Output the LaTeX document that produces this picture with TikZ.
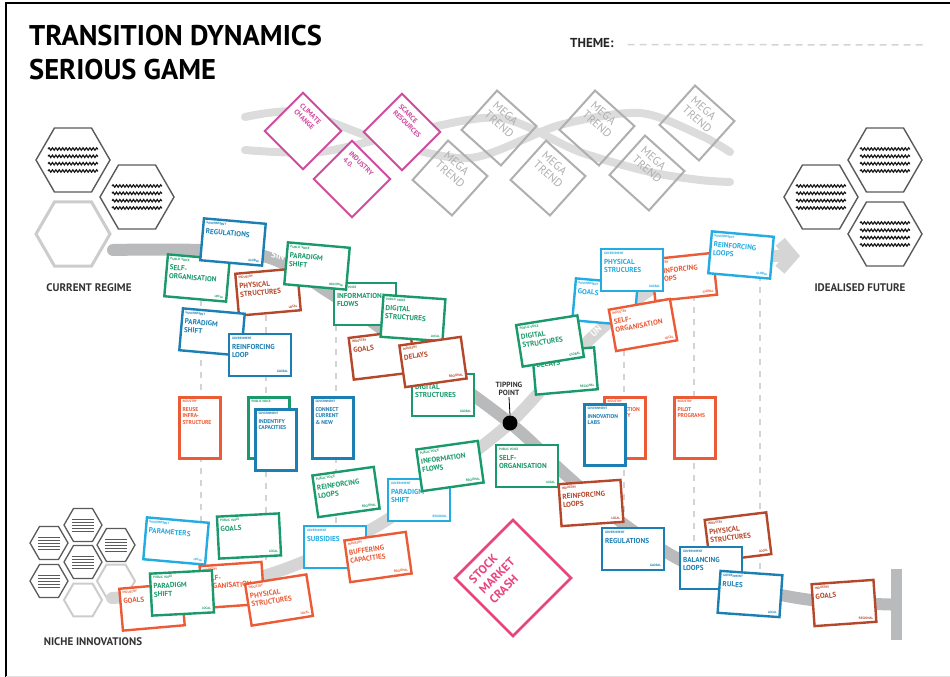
\documentclass[tikz,border=0pt]{standalone}
\usepackage{fontspec}
\setmainfont{PT Sans}
\usetikzlibrary{arrows.meta,decorations.pathmorphing}

\definecolor{govblue}{HTML}{1C7FB4}
\definecolor{govcyan}{HTML}{22ACE2}
\definecolor{voicegreen}{HTML}{1A9A6A}
\definecolor{indorange}{HTML}{EC5A36}
\definecolor{indbrick}{HTML}{B5472B}
\definecolor{trendpink}{HTML}{CF4B9E}
\definecolor{crashpink}{HTML}{E8457F}
\definecolor{trendgray}{HTML}{AEAFB1}
\definecolor{bandgray}{HTML}{DCDCDC}
\definecolor{regimegray}{HTML}{B9BABC}
\definecolor{nichegray}{HTML}{D5D5D6}
\definecolor{hexgray}{HTML}{5A5A5A}
\definecolor{dashgray}{HTML}{D4D4D4}

% fonts on the cards
\newcommand{\cardcat}{\fontsize{3.2}{4}\selectfont\bfseries}
\newcommand{\cardtitle}{\fontsize{7.2}{8.4}\selectfont\bfseries}
\newcommand{\cardtall}{\fontsize{5.6}{6.8}\selectfont\bfseries}
\newcommand{\trendfont}{\fontsize{7}{8.2}\selectfont\bfseries}
\newcommand{\megafont}{\fontsize{11.5}{12.5}\selectfont}
\newcommand{\crashfont}{\fontsize{12}{14.5}\selectfont\bfseries}

% card contents: category, title, scope
\newcommand{\cardtext}[3]{\parbox[c][36pt][t]{56pt}{\cardcat #1\par\vspace{1.5pt}{\cardtitle #2\par}\vfill\hfill{\cardcat #3}}}
\newcommand{\tallcardtext}[2]{\parbox[c][55pt][t]{35pt}{\cardcat #1\par\vspace{1.5pt}{\cardtall #2\par}}}

% hexagon and its wavy rows
\newcommand{\hexagon}[3]{\draw[#3] (#1) +(0:#2) -- +(60:#2) -- +(120:#2) -- +(180:#2) -- +(240:#2) -- +(300:#2) -- cycle;}
\newcommand{\waverows}[2]{\foreach \dy in {-11,-3.7,3.7,11} \draw[wave] ({#1-25},{#2+\dy}) -- ++(50,0);}
\newcommand{\linerows}[2]{\foreach \dy in {-6,-3,0,3,6} \draw[hexgray, line width=0.9pt] ({#1-11},{#2+\dy}) -- ++(22,0);}

\tikzset{
  card/.style={draw=#1, text=#1, fill=white, line width=2.4pt, inner sep=3pt},
  trend/.style={draw=#1, text=#1, line width=2pt, inner sep=7pt},
  wave/.style={decorate, decoration={snake, amplitude=1.2pt, segment length=3.4pt}, line width=1.2pt, black!90},
  bigcell/.style={hexgray, line width=1.4pt},
  emptycell/.style={black!20, line width=3pt},
  smallcell/.style={hexgray, line width=1.3pt},
  columnline/.style={dashgray, line width=2.6pt, dash pattern=on 6pt off 6pt},
  label/.style={font=\fontsize{11}{11}\selectfont\bfseries, text=black!80, inner sep=0}
}

\begin{document}
\begin{tikzpicture}[x=1pt, y=-1pt]
\useasboundingbox (0,0) rectangle (950,677);

% frame and heading
\draw[line width=2.5pt] (6,677) -- (6,3) -- (950,3);
\draw[black!12, line width=1pt] (6,676) -- (950,676);
\node[anchor=north west, align=left, inner sep=0, font=\fontsize{28.5}{34}\selectfont\bfseries] (title) at (29,25) {TRANSITION DYNAMICS\\SERIOUS GAME};
\node[anchor=base west, inner sep=0, font=\fontsize{13}{13}\selectfont\bfseries, text=black!85] (theme) at (570,48) {THEME:};
\draw[dashgray, line width=1.5pt, dash pattern=on 7pt off 5pt] ([xshift=14pt, yshift=-1pt]theme.east) -- (925,45);

% mega trend bands
\draw[bandgray, line width=8pt, line cap=round] plot[smooth] coordinates {(245,117) (300,112) (380,140) (470,158) (560,125) (640,113) (700,135) (730,152)};
\draw[bandgray, line width=8pt, line cap=round] plot[smooth] coordinates {(245,150) (320,152) (410,132) (500,118) (580,152) (650,172) (700,180) (730,182)};

% mega trends
\node[trend=trendgray, rotate=-42] (megaA) at (499,128) {\parbox[c][39pt][t]{39pt}{\megafont MEGA\\TREND}};
\node[trend=trendgray, rotate=-42] (megaB) at (597,128) {\parbox[c][39pt][t]{39pt}{\megafont MEGA\\TREND}};
\node[trend=trendgray, rotate=-42] (megaC) at (697,123) {\parbox[c][39pt][t]{39pt}{\megafont MEGA\\TREND}};
\node[trend=trendgray, rotate=-42] (megaD) at (450,178) {\parbox[c][39pt][t]{39pt}{\megafont MEGA\\TREND}};
\node[trend=trendgray, rotate=-42] (megaE) at (548,178) {\parbox[c][39pt][t]{39pt}{\megafont MEGA\\TREND}};
\node[trend=trendgray, rotate=-42] (megaF) at (647,173) {\parbox[c][39pt][t]{39pt}{\megafont MEGA\\TREND}};

% named trends
\node[trend=trendpink, fill=white, rotate=-45] (climate) at (303,131) {\parbox[c][40pt][t]{40pt}{\trendfont CLIMATE\\CHANGE}};
\node[trend=trendpink, fill=white, rotate=-45] (scarce) at (402,132) {\parbox[c][40pt][t]{40pt}{\trendfont SCARCE\\RESOURCES}};
\node[trend=trendpink, fill=white, rotate=-45] (industry) at (352,179) {\parbox[c][40pt][t]{40pt}{\trendfont INDUSTRY\\4.0.}};

% regime hexagons
\hexagon{73,160}{37}{bigcell}
\waverows{73}{160}
\hexagon{137,197}{37}{bigcell}
\waverows{137}{197}
\hexagon{73,234}{37}{emptycell}

% future hexagons
\hexagon{885,160}{37}{bigcell}
\waverows{885}{160}
\hexagon{821,197}{37}{bigcell}
\waverows{821}{197}
\hexagon{885,234}{37}{bigcell}
\waverows{885}{234}

% niche hexagons
\foreach \cx/\cy in {49/543, 83/525, 116/545, 83/562, 49/581} {
  \hexagon{\cx,\cy}{19}{smallcell}
  \linerows{\cx}{\cy}
}
\hexagon{83,600}{19}{emptycell, line width=2pt}
\hexagon{116,581}{19}{emptycell, line width=2pt}

% dashed columns
\foreach \cx/\ya/\yb in {201/300/530, 266/315/560, 336/325/530, 624/350/540, 694/295/570, 760/275/585}
  \draw[columnline] (\cx,\ya) -- (\cx,\yb);

% regime and niche paths
\coordinate (regime) at (113,250);
\coordinate (niche) at (112,598);
\coordinate (tp) at (510,423);
\coordinate (future) at (800,256);
\node[fill=regimegray, minimum width=11pt, minimum height=71pt, inner sep=0] (endbar) at (896.5,604.5) {};
\draw[regimegray, line width=12pt, line cap=round] plot[smooth, tension=0.55] coordinates {(regime) (255,254) (330,293) (420,357) (tp) (565,474) (625,525) (690,565) (760,590) (820,601) (endbar.west)};
\draw[nichegray, line width=12pt, line cap=round, -{Straight Barb[length=12pt, width=28pt]}] plot[smooth, tension=0.55] coordinates {(niche) (200,590) (270,574) (330,550) (390,518) (450,471) (tp) (555,375) (600,330) (650,290) (700,265) (750,257) (future)};
\node[text=white, font=\fontsize{9}{9}\selectfont\bfseries, rotate=-10] (sinkA) at (278,256) {SIN};
\node[text=white, font=\fontsize{9}{9}\selectfont\bfseries, rotate=42] (riseA) at (596,331) {UN};

% tipping point
\node[circle, fill=black, minimum size=15pt, inner sep=0] (tipping) at (tp) {};
\node[font=\fontsize{7.5}{8.5}\selectfont\bfseries, align=center, text=black!80, inner sep=1pt] (tiplabel) at (509,389) {TIPPING\\POINT};
\draw[line width=0.8pt] (tiplabel.south) -- (tipping.north);

% side labels
\node[label] (current) at (89,288) {CURRENT REGIME};
\node[label] (idealised) at (860,288) {IDEALISED FUTURE};
\node[label] (nichelabel) at (93,642) {NICHE INNOVATIONS};

% cards upper left
\node[card=voicegreen, rotate=-5] (selforgA) at (197,278) {\cardtext{PUBLIC VOICE}{SELF-\\ORGANISATION}{LOCAL}};
\node[card=govblue, rotate=-5] (regulA) at (233,242) {\cardtext{GOVERNMENT}{REGULATIONS}{GLOBAL}};
\node[card=indbrick, rotate=5] (physA) at (268,292) {\cardtext{INDUSTRY}{PHYSICAL\\STRUCTURES}{LOCAL}};
\node[card=voicegreen] (infoA) at (365,304) {\cardtext{PUBLIC VOICE}{INFORMATION\\FLOWS}{}};
\node[card=voicegreen, rotate=-5] (paradigmA) at (317,266) {\cardtext{PUBLIC VOICE}{PARADIGM\\SHIFT}{REGIONAL}};
\node[card=indbrick, rotate=7] (goalsA) at (382,355) {\cardtext{INDUSTRY}{GOALS}{}};
\node[card=voicegreen, rotate=-4] (digitalA) at (413,318) {\cardtext{PUBLIC VOICE}{DIGITAL\\STRUCTURES}{LOCAL}};
\node[card=voicegreen] (digitalB) at (443,395) {\cardtext{PUBLIC VOICE}{DIGITAL\\STRUCTURES}{GLOBAL}};
\node[card=indbrick, rotate=8] (delaysA) at (433,362) {\cardtext{INDUSTRY}{DELAYS}{REGIONAL}};
\node[card=govblue, rotate=-5] (paradigmB) at (212,332) {\cardtext{GOVERNMENT}{PARADIGM\\SHIFT}{LOCAL}};
\node[card=govblue] (reinfA) at (260,355) {\cardtext{GOVERNMENT}{REINFORCING\\LOOP}{GLOBAL}};

% cards upper right
\node[card=indorange, rotate=6] (reinfC) at (684,277) {\cardtext{INDUSTRY}{REINFORCING\\LOOPS}{GLOBAL}};
\node[card=govcyan, rotate=-5] (goalsB) at (605,302) {\cardtext{GOVERNMENT}{GOALS}{}};
\node[card=govcyan] (physB) at (632,270) {\cardtext{GOVERNMENT}{PHYSICAL\\STRUCURES}{GLOBAL}};
\node[card=govcyan, rotate=-5] (reinfB) at (741,255) {\cardtext{GOVERNMENT}{REINFORCING\\LOOPS}{GLOBAL}};
\node[card=voicegreen, rotate=5] (delaysB) at (565,371) {\cardtext{PUBLIC VOICE}{DELAYS}{REGIONAL}};
\node[card=voicegreen, rotate=9] (digitalC) at (550,341) {\cardtext{PUBLIC VOICE}{DIGITAL\\STRUCTURES}{GLOBAL}};
\node[card=indorange, rotate=10] (selforgB) at (643,325) {\cardtext{INDUSTRY}{SELF-\\ORGANISATION}{LOCAL}};

% upright cards
\node[card=indorange] (reuse) at (200,428) {\tallcardtext{INDUSTRY}{REUSE\\INFRA-\\STRUCTURE}};
\node[card=voicegreen] (voicetall) at (269,428) {\tallcardtext{PUBLIC VOICE}{}};
\node[card=govblue] (identify) at (276,440) {\tallcardtext{GOVERNMENT}{INDENTIFY\\CAPACITIES}};
\node[card=govblue] (connect) at (333,428) {\tallcardtext{GOVERNMENT}{CONNECT\\CURRENT\\\& NEW}};
\node[card=indorange] (production) at (625,428) {\tallcardtext{INDUSTRY}{PRODUCTION\\CAPACITY}};
\node[card=govblue] (labs) at (605,435) {\tallcardtext{GOVERNMENT}{INNOVATION\\LABS}};
\node[card=indorange] (pilot) at (695,428) {\tallcardtext{INDUSTRY}{PILOT\\PROGRAMS}};

% cards lower middle
\node[card=voicegreen, rotate=8] (reinfD) at (346,492) {\cardtext{PUBLIC VOICE}{REINFORCING\\LOOPS}{REGIONAL}};
\node[card=govcyan] (paradigmC) at (419,500) {\cardtext{GOVERNMENT}{PARADIGM\\SHIFT}{REGIONAL}};
\node[card=voicegreen, rotate=8] (infoB) at (450,466) {\cardtext{PUBLIC VOICE}{INFORMATION\\FLOWS}{REGIONAL}};

% cards lower left
\node[card=govcyan, rotate=-5] (params) at (176,541) {\cardtext{GOVERNMENT}{PARAMETERS}{LOCAL}};
\node[card=voicegreen, rotate=3] (goalsC) at (249,536) {\cardtext{PUBLIC VOICE}{GOALS}{LOCAL}};
\node[card=govcyan] (subsidies) at (335,547) {\cardtext{GOVERNMENT}{SUBSIDIES}{}};
\node[card=indorange, rotate=8] (buffer) at (378,557) {\cardtext{INDUSTRY}{BUFFERING\\CAPACITIES}{REGIONAL}};
\node[card=indorange, rotate=5] (goalsD) at (152,607) {\cardtext{INDUSTRY}{GOALS}{}};
\node[card=indorange, rotate=4] (selforgC) at (232,585) {\cardtext{INDUSTRY}{SELF-\\ORGANISATION}{}};
\node[card=voicegreen, rotate=3] (paradigmD) at (182,593) {\cardtext{PUBLIC VOICE}{PARADIGM\\SHIFT}{LOCAL}};
\node[card=indorange, rotate=9] (physC) at (279,600) {\cardtext{INDUSTRY}{PHYSICAL\\STRUCTURES}{LOCAL}};

% cards lower right
\node[card=voicegreen] (selforgD) at (527,466) {\cardtext{PUBLIC VOICE}{SELF-\\ORGANISATION}{LOCAL}};
\node[card=indbrick, rotate=4] (reinfE) at (591,503) {\cardtext{INDUSTRY}{REINFORCING\\LOOPS}{LOCAL}};
\node[card=govblue] (regulB) at (633,549) {\cardtext{GOVERNMENT}{REGULATIONS}{GLOBAL}};
\node[card=indbrick, rotate=7] (physD) at (738,537) {\cardtext{INDUSTRY}{PHYSICAL\\STRUCTURES}{LOCAL}};
\node[card=govblue] (balance) at (711,568) {\cardtext{GOVERNMENT}{BALANCING\\LOOPS}{}};
\node[card=govblue, rotate=-4] (rules) at (750,594) {\cardtext{GOVERNMENT}{RULES}{LOCAL}};
\node[card=indbrick, rotate=4] (goalsE) at (844,603) {\cardtext{INDUSTRY}{GOALS}{REGIONAL}};

% shock
\node[trend=crashpink, fill=white, rotate=45, inner sep=9pt, line width=2.6pt] (crash) at (513,578) {\parbox[c][64pt][t]{64pt}{\crashfont STOCK\\MARKET\\CRASH}};
\end{tikzpicture}
\end{document}
